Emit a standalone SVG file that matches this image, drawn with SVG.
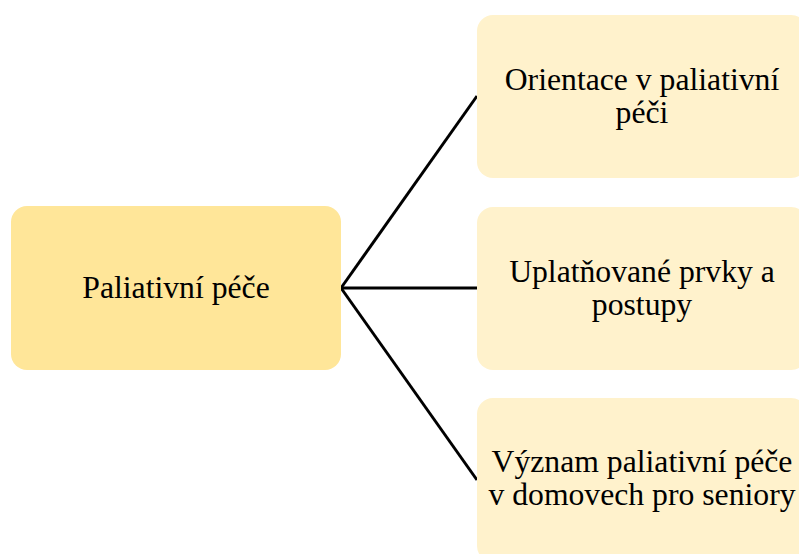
<svg xmlns="http://www.w3.org/2000/svg" width="799" height="554" viewBox="0 0 799 554">
<style>
.t{font-family:"Liberation Serif","Times New Roman",serif;font-size:31.7px;fill:#000;text-anchor:middle}
.main{fill:#FFE699}
.sub{fill:#FFF2CC}
.c{stroke:#000;stroke-width:3;fill:none}
</style>
<rect width="799" height="554" fill="#fff"/>
<g id="connectors">
<path class="c" d="M341,288 L477,96"/>
<path class="c" d="M341,288 L477,288"/>
<path class="c" d="M341,288 L477,480"/>
</g>
<g id="n0">
<rect class="main" x="11" y="206" width="330" height="164" rx="16"/>
<text class="t" x="176" y="298">Paliativní péče</text>
</g>
<g id="n1">
<rect class="sub" x="477" y="15" width="330" height="163" rx="16"/>
<text class="t" x="642" y="90">Orientace v paliativní</text>
<text class="t" x="642" y="123">péči</text>
</g>
<g id="n2">
<rect class="sub" x="477" y="207" width="330" height="163" rx="16"/>
<text class="t" x="642" y="282">Uplatňované prvky a</text>
<text class="t" x="642" y="315">postupy</text>
</g>
<g id="n3">
<rect class="sub" x="477" y="398" width="330" height="164" rx="16"/>
<text class="t" x="642" y="472">Význam paliativní péče</text>
<text class="t" x="642" y="505">v domovech pro seniory</text>
</g>
</svg>
